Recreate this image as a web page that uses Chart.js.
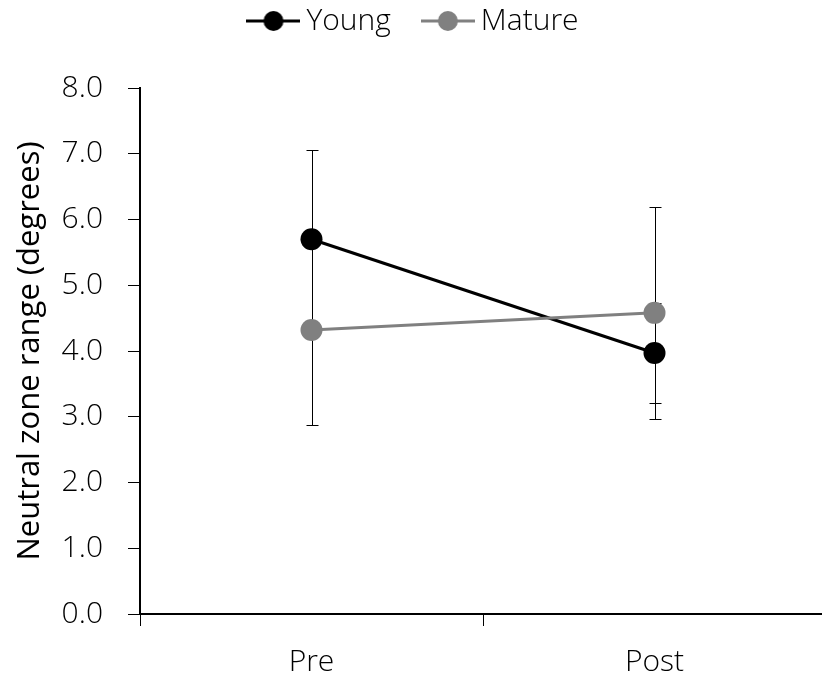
<!DOCTYPE html>
<html>
<head>
<meta charset="utf-8">
<script src="https://cdn.jsdelivr.net/npm/chart.js@4.4.1/dist/chart.umd.min.js"></script>
<style>
  html, body { margin: 0; padding: 0; background: #fff; overflow: hidden; }
  #wrap { position: relative; width: 826px; height: 679px; }
</style>
</head>
<body>
<div id="wrap"><canvas id="c" width="826" height="679"></canvas></div>
<script>
// ---- data ----
const categories = ['Pre', 'Post'];
const seriesNames = ['Young', 'Mature'];
const youngMeans = [5.70, 3.97];
const youngErrors = [1.35, 0.76];
const matureMeans = [4.32, 4.58];
const matureErrors = [1.44, 1.61];
const yAxisTitle = 'Neutral zone range (degrees)';
const yMin = 0, yMax = 8, yStep = 1;

const youngColor = '#000000';
const matureColor = '#808080';
const tickFont = { family: '"Open Sans", sans-serif', size: 30, weight: 300 };

function makeLegendIcon(color) {
  const c = document.createElement('canvas');
  c.width = 54; c.height = 22;
  const g = c.getContext('2d');
  g.strokeStyle = color; g.lineWidth = 3;
  g.beginPath(); g.moveTo(0, 11); g.lineTo(54, 11); g.stroke();
  g.fillStyle = color;
  g.beginPath(); g.arc(27, 11, 10, 0, Math.PI * 2); g.fill();
  return c;
}
const legendIcons = [makeLegendIcon(youngColor), makeLegendIcon(matureColor)];

const errorBars = {
  id: 'errorBars',
  beforeDatasetsDraw(chart) {
    const ctx = chart.ctx;
    const xs = chart.scales.x, ys = chart.scales.y;
    ctx.save();
    ctx.strokeStyle = '#000';
    ctx.lineWidth = 1;
    chart.data.datasets.forEach(ds => {
      ds.data.forEach((v, i) => {
        const e = ds.errors[i];
        const x = Math.round(xs.getPixelForValue(i)) + 0.5;
        const yt = Math.round(ys.getPixelForValue(v + e)) + 0.5;
        const yb = Math.round(ys.getPixelForValue(v - e)) + 0.5;
        ctx.beginPath();
        ctx.moveTo(x, yt); ctx.lineTo(x, yb);
        ctx.moveTo(x - 6, yt); ctx.lineTo(x + 6, yt);
        ctx.moveTo(x - 6, yb); ctx.lineTo(x + 6, yb);
        ctx.stroke();
      });
    });
    ctx.restore();
  }
};

// make the legend box tall enough that the plot area starts lower
const legendSpacer = {
  id: 'legendSpacer',
  beforeUpdate(chart) {
    const lg = chart.legend;
    if (lg && !lg._spacerPatched) {
      const f = lg.fit;
      lg.fit = function () { f.call(this); this.height = 121; };
      lg._spacerPatched = true;
    }
  }
};

new Chart(document.getElementById('c'), {
  type: 'line',
  data: {
    labels: categories,
    datasets: [
      {
        label: seriesNames[0], data: youngMeans, errors: youngErrors,
        borderColor: youngColor, backgroundColor: youngColor,
        borderWidth: 3, pointRadius: 11, pointBorderWidth: 0,
        pointBackgroundColor: youngColor, order: 1
      },
      {
        label: seriesNames[1], data: matureMeans, errors: matureErrors,
        borderColor: matureColor, backgroundColor: matureColor,
        borderWidth: 3, pointRadius: 11, pointBorderWidth: 0,
        pointBackgroundColor: matureColor, order: 0
      }
    ]
  },
  options: {
    responsive: false,
    animation: false,
    layout: { autoPadding: false, padding: { top: -33, left: 8, right: 0, bottom: 0 } },
    plugins: {
      tooltip: { enabled: false },
      legend: {
        position: 'top',
        labels: {
          usePointStyle: true,
          pointStyleWidth: 36,
          padding: 39,
          color: '#000',
          font: tickFont,
          sort: (a, b) => a.datasetIndex - b.datasetIndex,
          generateLabels(chart) {
            const items = Chart.defaults.plugins.legend.labels.generateLabels(chart);
            items.forEach(it => { it.pointStyle = legendIcons[it.datasetIndex]; });
            return items;
          }
        }
      }
    },
    scales: {
      x: {
        type: 'category',
        offset: true,
        grid: { offset: true, drawOnChartArea: false, drawTicks: true, tickLength: 12, color: '#000', lineWidth: 1 },
        border: { display: true, color: '#000', width: 2 },
        ticks: { color: '#000', font: tickFont, padding: 18, maxRotation: 0 },
        afterFit(s) { s.height = 65; s.paddingLeft = 0; s.paddingRight = 0; }
      },
      y: {
        min: yMin, max: yMax,
        grid: { drawOnChartArea: false, drawTicks: true, tickLength: 12, color: '#000', lineWidth: 1 },
        border: { display: true, color: '#000', width: 2 },
        ticks: { stepSize: yStep, color: '#000', font: tickFont, padding: 25, callback: v => Number(v).toFixed(1) },
        title: {
          display: true, text: yAxisTitle, color: '#000',
          font: { family: '"Open Sans", sans-serif', size: 31, weight: 400 },
          padding: { top: 4, bottom: 0 }
        },
        afterFit(s) { s.width = 132; }
      }
    }
  },
  plugins: [errorBars, legendSpacer]
});
</script>
</body>
</html>
